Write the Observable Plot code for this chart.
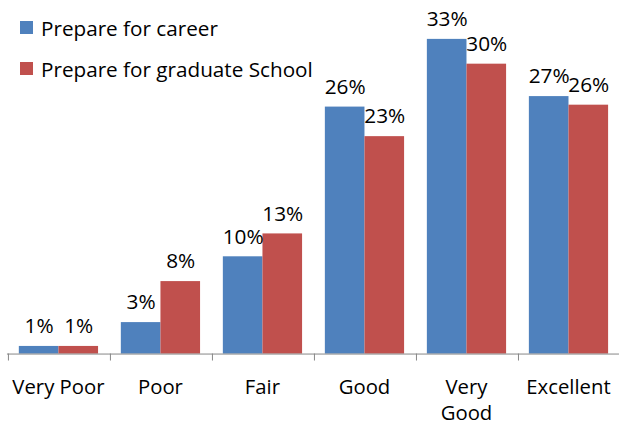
<!DOCTYPE html>
<html><head><meta charset="utf-8">
<script src="https://cdn.jsdelivr.net/npm/d3@7"></script>
<script src="https://cdn.jsdelivr.net/npm/@observablehq/plot@0.6"></script>
<style>
html,body{margin:0;padding:0;background:#fff;overflow:hidden}
#wrap{position:relative;width:619px;height:432px;overflow:hidden;font-family:"Open Sans",sans-serif;color:#000}
#chart{position:absolute;left:0;top:0}
#legend{position:absolute;left:20px;top:7px;font-size:20.7px}
.item{display:flex;align-items:center;height:41px;white-space:nowrap}
.sw{width:13px;height:13px;margin-right:8px;flex:none}
</style></head>
<body>
<div id="wrap"><div id="chart"></div><div id="legend"></div></div>
<script>
const categories = ["Very Poor", "Poor", "Fair", "Good", "Very Good", "Excellent"];
const tickLabels = ["Very Poor", "Poor", "Fair", "Good", "Very\nGood", "Excellent"];
const series = ["Prepare for career", "Prepare for graduate School"];
const colors = ["#4F81BD", "#C0504D"];
const careerValues = [0.8, 3.3, 10.2, 25.9, 33.0, 27.0];
const graduateValues = [0.8, 7.6, 12.6, 22.8, 30.4, 26.1];
const careerLabels = ["1%", "3%", "10%", "26%", "33%", "27%"];
const graduateLabels = ["1%", "8%", "13%", "23%", "30%", "26%"];

const data = [];
categories.forEach((c, i) => {
  data.push({category: c, tick: tickLabels[i], series: series[0], value: careerValues[i], label: careerLabels[i]});
  data.push({category: c, tick: tickLabels[i], series: series[1], value: graduateValues[i], label: graduateLabels[i]});
});
const first = d => d.series === series[0];

const chart = Plot.plot({
  width: 625,
  height: 432,
  marginLeft: 6,
  marginRight: 0,
  marginTop: 20,
  marginBottom: 75,
  style: {fontFamily: "Open Sans", fontSize: "20px", color: "#000", background: "transparent"},
  facet: {data, x: "category", marginTop: 0, marginBottom: 0, marginLeft: 0, marginRight: 0},
  fx: {domain: categories, padding: 0, axis: null, label: null},
  x: {domain: series, axis: null, paddingInner: 0, paddingOuter: 0.26},
  y: {domain: [0, 35], range: [357, 20], axis: null},
  color: {domain: series, range: colors},
  marks: [
    Plot.barY(data, {x: "series", y: "value", fill: "series"}),
    Plot.ruleY([0], {stroke: "#868686", strokeWidth: 1}),
    Plot.ruleX(data, {filter: first, x: "series", y1: 0, y2: -0.73, stroke: "#868686", dx: -31}),
    Plot.text(data, {x: "series", y: "value", text: "label", dy: -20, fontSize: 21}),
    Plot.text(data, {filter: first, text: "tick", frameAnchor: "bottom", lineAnchor: "top", dy: 21, fontSize: 20.5, lineHeight: 1.3})
  ]
});
document.getElementById("chart").appendChild(chart);

const legend = document.getElementById("legend");
series.forEach((s, i) => {
  const item = document.createElement("div");
  item.className = "item";
  const sw = document.createElement("span");
  sw.className = "sw";
  sw.style.background = colors[i];
  const t = document.createElement("span");
  t.textContent = s;
  item.appendChild(sw);
  item.appendChild(t);
  legend.appendChild(item);
});
</script>
</body></html>
